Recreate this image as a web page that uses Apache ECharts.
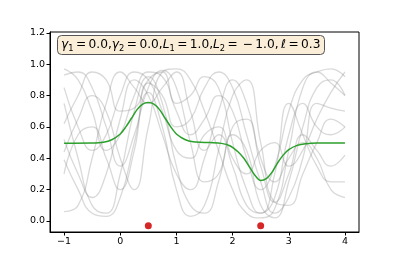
<!DOCTYPE html>
<html><head><meta charset="utf-8">
<script src="https://cdn.jsdelivr.net/npm/echarts@6/dist/echarts.min.js"></script>
<style>html,body{margin:0;padding:0;background:#fff}#c{width:399px;height:266px}</style>
</head><body><div id="c"></div>
<script>
// sample grid
const xs = [-1, -0.75, -0.5, -0.25, 0, 0.25, 0.5, 0.75, 1, 1.25, 1.5, 1.75, 2, 2.25, 2.5, 2.75, 3, 3.25, 3.5, 3.75, 4];
const s1 = [0.97, 0.90, 0.70, 0.45, 0.55, 0.80, 0.95, 0.92, 0.70, 0.55, 0.65, 0.80, 0.70, 0.40, 0.20, 0.35, 0.70, 0.90, 0.95, 0.97, 0.92];
const s2 = [0.93, 0.95, 0.85, 0.60, 0.35, 0.55, 0.85, 0.96, 0.85, 0.50, 0.25, 0.30, 0.55, 0.45, 0.10, 0.02, 0.25, 0.60, 0.85, 0.90, 0.80];
const s3 = [0.75, 0.40, 0.10, 0.05, 0.30, 0.70, 0.92, 0.75, 0.35, 0.10, 0.05, 0.25, 0.60, 0.65, 0.35, 0.12, 0.30, 0.55, 0.45, 0.35, 0.42];
const s4 = [0.62, 0.80, 0.95, 0.90, 0.70, 0.72, 0.90, 0.95, 0.75, 0.80, 0.92, 0.85, 0.50, 0.20, 0.05, 0.15, 0.55, 0.75, 0.60, 0.55, 0.60];
const s5 = [0.52, 0.30, 0.15, 0.30, 0.65, 0.90, 0.80, 0.55, 0.30, 0.20, 0.40, 0.70, 0.90, 0.75, 0.40, 0.25, 0.40, 0.50, 0.40, 0.20, 0.15];
const s6 = [0.44, 0.65, 0.80, 0.70, 0.40, 0.20, 0.60, 0.95, 0.97, 0.90, 0.70, 0.45, 0.20, 0.05, 0.02, 0.08, 0.45, 0.85, 0.95, 0.88, 0.80];
const s7 = [0.39, 0.20, 0.05, 0.03, 0.15, 0.50, 0.82, 0.60, 0.20, 0.03, 0.10, 0.45, 0.80, 0.90, 0.50, 0.12, 0.10, 0.30, 0.50, 0.65, 0.60];
const s8 = [0.06, 0.10, 0.40, 0.75, 0.95, 0.85, 0.75, 0.85, 0.95, 0.70, 0.45, 0.55, 0.35, 0.10, 0.05, 0.30, 0.75, 0.55, 0.35, 0.25, 0.25];
const s9 = [0.30, 0.55, 0.60, 0.40, 0.20, 0.45, 0.88, 0.80, 0.60, 0.65, 0.85, 0.95, 0.85, 0.55, 0.25, 0.05, 0.15, 0.40, 0.75, 0.72, 0.70];
const s10 = [0.85, 0.60, 0.45, 0.55, 0.80, 0.95, 0.90, 0.70, 0.45, 0.40, 0.55, 0.60, 0.40, 0.30, 0.45, 0.50, 0.35, 0.45, 0.65, 0.82, 0.95];
const samples = [s1, s2, s3, s4, s5, s6, s7, s8, s9, s10];
// mean curve
const meanX = [-1, -0.5, -0.3, -0.15, 0, 0.1, 0.2, 0.3, 0.4, 0.5, 0.6, 0.7, 0.8, 0.9, 1.0, 1.15, 1.3, 1.6, 1.8, 1.95, 2.1, 2.2, 2.3, 2.4, 2.5, 2.6, 2.7, 2.8, 2.9, 3.0, 3.15, 3.3, 3.5, 4.0];
const meanY = [0.496, 0.497, 0.502, 0.518, 0.555, 0.60, 0.655, 0.71, 0.745, 0.755, 0.745, 0.71, 0.655, 0.60, 0.555, 0.52, 0.505, 0.50, 0.495, 0.48, 0.44, 0.40, 0.345, 0.29, 0.258, 0.27, 0.31, 0.37, 0.42, 0.455, 0.482, 0.493, 0.497, 0.497];
// observed points
const obsX = [0.5, 2.5];
const obsY = [-0.03, -0.03];
// ticks
const xTicks = [-1, 0, 1, 2, 3, 4];
const yTicks = [0, 0.2, 0.4, 0.6, 0.8, 1.0, 1.2];

const series = [];
samples.forEach(s => {
  series.push({
    type: 'line', smooth: 0.5, showSymbol: false, silent: true,
    lineStyle: { color: 'rgba(128,128,128,0.3)', width: 1.3 },
    data: xs.map((x, i) => [x, s[i]])
  });
});
series.push({
  type: 'line', smooth: 0.3, showSymbol: false, silent: true, z: 5,
  lineStyle: { color: '#2ca02c', width: 1.5 },
  data: meanX.map((x, i) => [x, meanY[i]])
});
series.push({
  type: 'scatter', symbolSize: 7, z: 6,
  itemStyle: { color: '#d62728', opacity: 1 },
  data: obsX.map((x, i) => [x, obsY[i]])
});

const fmt = v => (v < 0 ? '\u2212' : '') + Math.abs(v);
const eq = '\u2009=\u2009';
const chart = echarts.init(document.getElementById('c'));
chart.setOption({
  animation: false,
  grid: { left: 50, right: 40, top: 32, bottom: 34, show: true, borderColor: '#000', borderWidth: 1 },
  xAxis: {
    type: 'value', min: -1.25, max: 4.25,
    splitLine: { show: false },
    axisLine: { show: true, onZero: false, lineStyle: { color: '#000', width: 1 } },
    axisTick: { show: true, length: 3.5, customValues: xTicks, lineStyle: { color: '#000' } },
    axisLabel: { customValues: xTicks, formatter: fmt, color: '#000', fontFamily: 'DejaVu Sans', fontSize: 9.5, margin: 5 }
  },
  yAxis: {
    type: 'value', min: -0.07, max: 1.205,
    splitLine: { show: false },
    axisLine: { show: true, onZero: false, lineStyle: { color: '#000', width: 1 } },
    axisTick: { show: true, length: 3.5, customValues: yTicks, lineStyle: { color: '#000' } },
    axisLabel: { customValues: yTicks, formatter: v => v.toFixed(1), color: '#000', fontFamily: 'DejaVu Sans', fontSize: 9.5, margin: 5 }
  },
  title: {
    left: 57, top: 33,
    text: '{i|\u03b3}{s|1}{n|' + eq + '0.0,}{i|\u03b3}{s|2}{n|' + eq + '0.0,}{i|L}{s|1}{n|' + eq + '1.0,}{i|L}{s|2}{n|' + eq + '\u2009\u2212\u20091.0,\u2009}{i|\u2113}{n|' + eq + '0.3}',
    backgroundColor: 'rgba(245,222,179,0.5)',
    borderColor: '#555', borderWidth: 1, borderRadius: 4,
    padding: [4, 4, 2, 4],
    textStyle: {
      fontWeight: 'normal',
      rich: {
        n: { fontFamily: 'DejaVu Sans', fontWeight: 'normal', fontSize: 12.2, color: '#000', lineHeight: 16 },
        i: { fontFamily: 'DejaVu Sans', fontWeight: 'normal', fontStyle: 'italic', fontSize: 12.2, color: '#000', lineHeight: 16 },
        s: { fontFamily: 'DejaVu Sans', fontWeight: 'normal', fontSize: 8.3, color: '#000', lineHeight: 16, verticalAlign: 'bottom', padding: [5, 0, 0, 0] }
      }
    }
  },
  series: series
});
</script>
</body></html>
